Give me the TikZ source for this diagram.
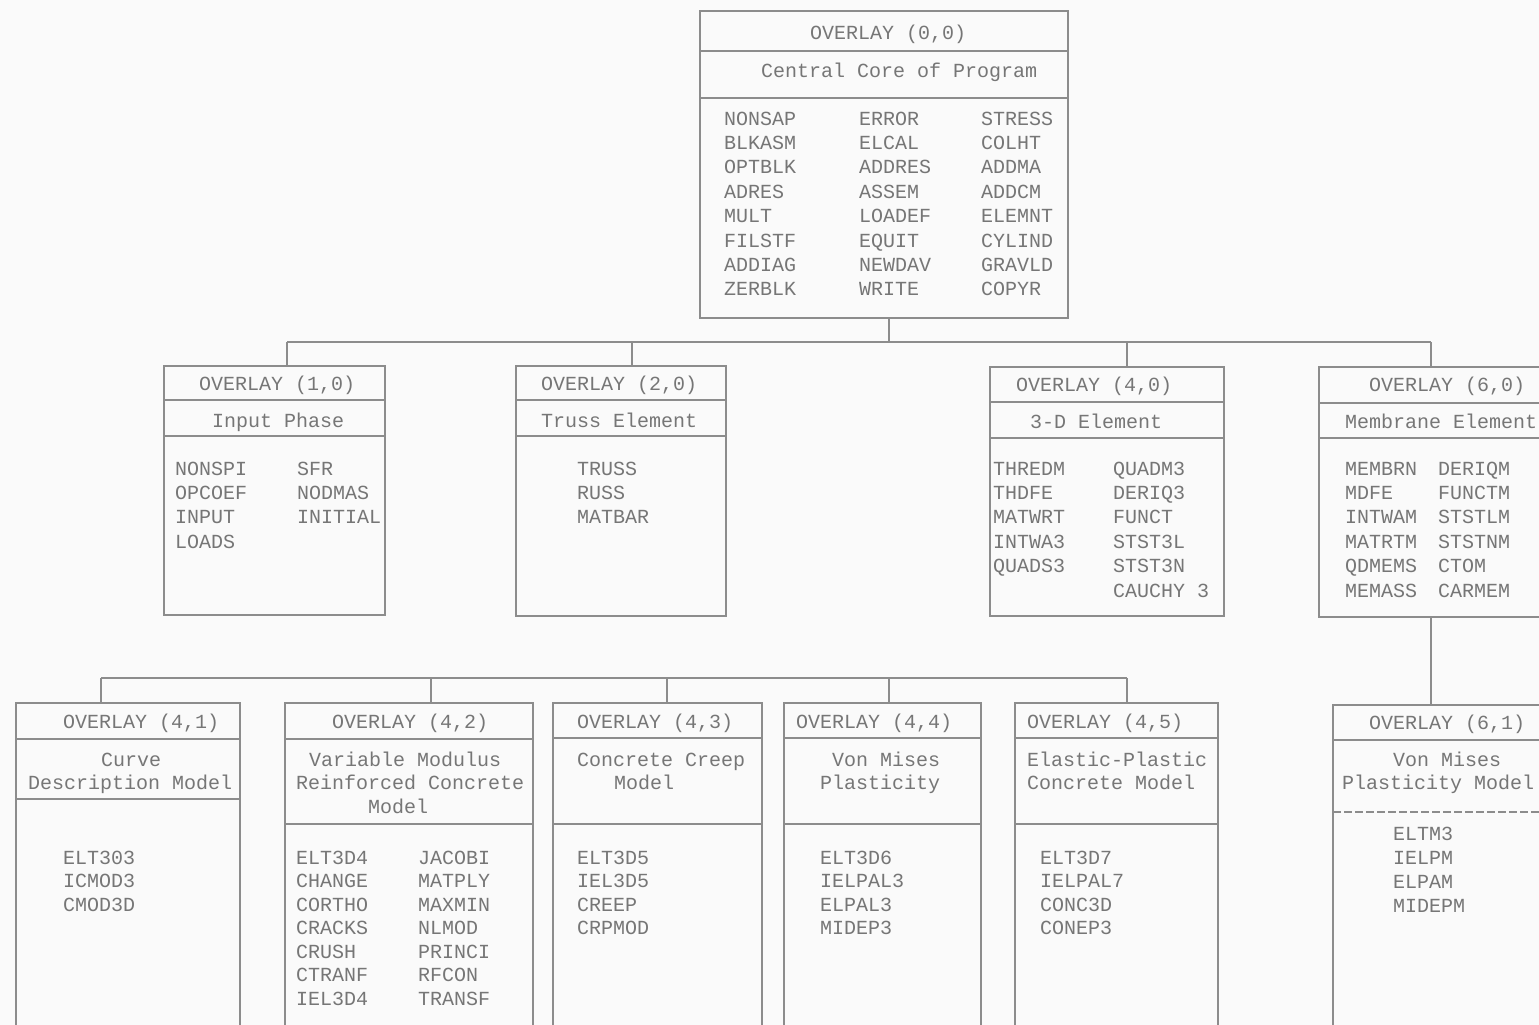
\documentclass[tikz,border=0pt]{standalone}
\usepackage{fontspec}
\newfontfamily\mono{Liberation Mono}
\definecolor{inkc}{RGB}{118,118,118}
\definecolor{linec}{RGB}{140,140,140}
\definecolor{bgc}{RGB}{250,250,250}
\tikzset{
  box/.style={draw=linec, line width=1.4pt, rectangle, inner sep=0pt, outer sep=0pt, anchor=north west},
  rulel/.style={draw=linec, line width=1.4pt},
  conn/.style={draw=linec, line width=1.4pt},
  txt/.style={text=inkc, font=\mono\fontsize{20}{24}\selectfont, inner sep=0pt, anchor=mid west, yshift=-5pt},
}
\newcommand\ovbox[5]{\node[box, minimum width={(#4-#2)*1pt}, minimum height={(#5-#3)*1pt}] (#1) at (#2,#3) {};}
\newcommand\divider[2]{\draw[rulel] (#1.west |- 0,#2) -- (#1.east |- 0,#2);}
\newcommand\itemcol[5]{\foreach \w [count=\k] in {#5} {\node[txt] (#1-\k) at ({#2},{#3+#4*(\k-1)}) {\w};}}
\begin{document}
\begin{tikzpicture}[x=1pt,y=-1pt]
\useasboundingbox (0,0) rectangle (1539,1025);
\fill[bgc] (0,0) rectangle (1539,1025);
\clip (0,0) rectangle (1539,1025);

% ---------- top box (0,0)
\ovbox{b00}{700}{11}{1068}{318}
\divider{b00}{51}\divider{b00}{98}
\node[txt] (t00) at (810,32) {OVERLAY (0,0)};
\node[txt] (s00) at (761,70) {Central Core of Program};
\itemcol{c00a}{724}{118}{24.4}{NONSAP,BLKASM,OPTBLK,ADRES,MULT,FILSTF,ADDIAG,ZERBLK}
\itemcol{c00b}{859}{118}{24.4}{ERROR,ELCAL,ADDRES,ASSEM,LOADEF,EQUIT,NEWDAV,WRITE}
\itemcol{c00c}{981}{118}{24.4}{STRESS,COLHT,ADDMA,ADDCM,ELEMNT,CYLIND,GRAVLD,COPYR}

% ---------- second row
\ovbox{b10}{164}{366}{385}{615}
\divider{b10}{400}\divider{b10}{436}
\node[txt] (t10) at (199,383) {OVERLAY (1,0)};
\node[txt] (s10) at (212,420) {Input Phase};
\itemcol{c10a}{175}{468}{24.4}{NONSPI,OPCOEF,INPUT,LOADS}
\itemcol{c10b}{297}{468}{24.4}{SFR,NODMAS,INITIAL}

\ovbox{b20}{516}{366}{726}{616}
\divider{b20}{400}\divider{b20}{436}
\node[txt] (t20) at (541,383) {OVERLAY (2,0)};
\node[txt] (s20) at (541,420) {Truss Element};
\itemcol{c20a}{577}{468}{24.4}{TRUSS,RUSS,MATBAR}

\ovbox{b40}{990}{367}{1224}{616}
\divider{b40}{402}\divider{b40}{438}
\node[txt] (t40) at (1016,384) {OVERLAY (4,0)};
\node[txt] (s40) at (1030,421) {3-D Element};
\itemcol{c40a}{993}{468}{24.4}{THREDM,THDFE,MATWRT,INTWA3,QUADS3}
\itemcol{c40b}{1113}{468}{24.4}{QUADM3,DERIQ3,FUNCT,STST3L,STST3N,CAUCHY 3}

\ovbox{b60}{1319}{367}{1545}{617}
\divider{b60}{403}\divider{b60}{438}
\node[txt] (t60) at (1369,384) {OVERLAY (6,0)};
\node[txt] (s60) at (1345,421) {Membrane Element};
\itemcol{c60a}{1345}{468}{24.4}{MEMBRN,MDFE,INTWAM,MATRTM,QDMEMS,MEMASS}
\itemcol{c60b}{1438}{468}{24.4}{DERIQM,FUNCTM,STSTLM,STSTNM,CTOM,CARMEM}

% ---------- third row
\ovbox{b41}{16}{703}{240}{1040}
\divider{b41}{739}\divider{b41}{799}
\node[txt] (t41) at (63,721) {OVERLAY (4,1)};
\node[txt] (s41a) at (101,759) {Curve};
\node[txt] (s41b) at (28,782) {Description Model};
\itemcol{c41a}{63}{857}{23.5}{ELT303,ICMOD3,CMOD3D}

\ovbox{b42}{285}{703}{533}{1040}
\divider{b42}{739}\divider{b42}{824}
\node[txt] (t42) at (332,721) {OVERLAY (4,2)};
\node[txt] (s42a) at (309,759) {Variable Modulus};
\node[txt] (s42b) at (296,782) {Reinforced Concrete};
\node[txt] (s42c) at (368,806) {Model};
\itemcol{c42a}{296}{857}{23.5}{ELT3D4,CHANGE,CORTHO,CRACKS,CRUSH,CTRANF,IEL3D4}
\itemcol{c42b}{418}{857}{23.5}{JACOBI,MATPLY,MAXMIN,NLMOD,PRINCI,RFCON,TRANSF}

\ovbox{b43}{553}{703}{762}{1040}
\divider{b43}{738}\divider{b43}{824}
\node[txt] (t43) at (577,721) {OVERLAY (4,3)};
\node[txt] (s43a) at (577,759) {Concrete Creep};
\node[txt] (s43b) at (614,782) {Model};
\itemcol{c43a}{577}{857}{23.5}{ELT3D5,IEL3D5,CREEP,CRPMOD}

\ovbox{b44}{784}{703}{981}{1040}
\divider{b44}{738}\divider{b44}{824}
\node[txt] (t44) at (796,721) {OVERLAY (4,4)};
\node[txt] (s44a) at (832,759) {Von Mises};
\node[txt] (s44b) at (820,782) {Plasticity};
\itemcol{c44a}{820}{857}{23.5}{ELT3D6,IELPAL3,ELPAL3,MIDEP3}

\ovbox{b45}{1015}{703}{1218}{1040}
\divider{b45}{738}\divider{b45}{824}
\node[txt] (t45) at (1027,721) {OVERLAY (4,5)};
\node[txt] (s45a) at (1027,759) {Elastic-Plastic};
\node[txt] (s45b) at (1027,782) {Concrete Model};
\itemcol{c45a}{1040}{857}{23.5}{ELT3D7,IELPAL7,CONC3D,CONEP3}

\ovbox{b61}{1333}{705}{1545}{1040}
\divider{b61}{740}
\draw[rulel, line width=1.1pt, dash pattern=on 8pt off 3pt] (b61.west |- 0,812) -- (b61.east |- 0,812);
\node[txt] (t61) at (1369,722) {OVERLAY (6,1)};
\node[txt] (s61a) at (1393,759) {Von Mises};
\node[txt] (s61b) at (1342,782) {Plasticity Model};
\itemcol{c61a}{1393}{833}{24}{ELTM3,IELPM,ELPAM,MIDEPM}

% ---------- connectors
\coordinate (dA0) at (889,342);
\coordinate (dA1) at (287,342);
\coordinate (dA2) at (632,342);
\coordinate (dA4) at (1127,342);
\coordinate (dA6) at (1431,342);
\draw[conn] (dA0 |- b00.south) -- (dA0);
\draw[conn] (dA1) -- (dA6);
\draw[conn] (dA1) -- (dA1 |- b10.north);
\draw[conn] (dA2) -- (dA2 |- b20.north);
\draw[conn] (dA4) -- (dA4 |- b40.north);
\draw[conn] (dA6) -- (dA6 |- b60.north);

\coordinate (dB1) at (101,678);
\coordinate (dB2) at (431,678);
\coordinate (dB3) at (667,678);
\coordinate (dB4) at (889,678);
\coordinate (dB5) at (1127,678);
\draw[conn] (dB1) -- (dB5);
\draw[conn] (dB1) -- (dB1 |- b41.north);
\draw[conn] (dB2) -- (dB2 |- b42.north);
\draw[conn] (dB3) -- (dB3 |- b43.north);
\draw[conn] (dB4) -- (dB4 |- b44.north);
\draw[conn] (dB5) -- (dB5 |- b45.north);

\coordinate (dC) at (1431,660);
\draw[conn] (dC |- b60.south) -- (dC |- b61.north);
\end{tikzpicture}
\end{document}
